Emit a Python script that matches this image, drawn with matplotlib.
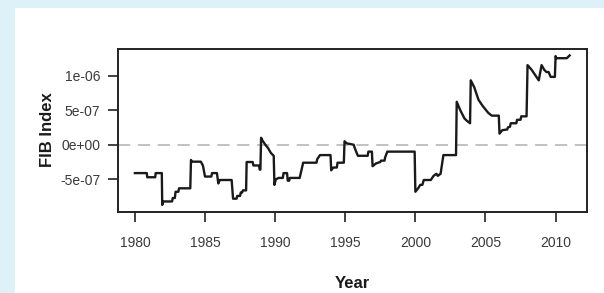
import matplotlib
matplotlib.use("Agg")
import matplotlib.pyplot as plt
from matplotlib.patches import Rectangle

plt.rcParams['font.family'] = ['Liberation Sans', 'DejaVu Sans']

# FIB index path (year, value in units of 1e-7)
years = [1980.00, 1980.85, 1980.88, 1981.45, 1981.48, 1981.92, 1981.95, 1982.02, 1982.65, 1982.70,
         1982.85, 1982.90, 1983.10, 1983.15, 1983.95, 1984.00, 1984.05, 1984.70, 1984.85, 1984.95,
         1985.00, 1985.45, 1985.50, 1985.85, 1985.95, 1986.05, 1986.90, 1987.00, 1987.25, 1987.30,
         1987.50, 1987.55, 1987.65, 1987.70, 1987.93, 1987.97, 1988.40, 1988.45, 1988.85, 1988.90,
         1988.95, 1989.00, 1989.10, 1989.30, 1989.50, 1989.70, 1989.90, 1989.95, 1990.05, 1990.25,
         1990.55, 1990.60, 1990.85, 1990.90, 1991.00, 1991.05, 1991.75, 1992.00, 1992.95, 1993.00,
         1993.20, 1993.95, 1994.00, 1994.15, 1994.40, 1994.45, 1994.90, 1994.95, 1995.10, 1995.60,
         1995.70, 1995.90, 1996.60, 1996.65, 1996.90, 1996.95, 1997.20, 1997.50, 1997.55, 1997.80,
         1997.85, 1998.00, 1999.95, 2000.00, 2000.20, 2000.35, 2000.50, 2000.60, 2001.10, 2001.30,
         2001.50, 2001.60, 2001.80, 2002.00, 2002.90, 2002.95, 2003.20, 2003.50, 2003.65, 2003.90,
         2003.95, 2004.20, 2004.50, 2004.80, 2005.00, 2005.20, 2005.45, 2005.95, 2006.00, 2006.20,
         2006.55, 2006.60, 2006.75, 2006.80, 2007.20, 2007.25, 2007.50, 2007.55, 2007.93, 2008.00,
         2008.30, 2008.50, 2008.80, 2009.00, 2009.20, 2009.35, 2009.50, 2009.65, 2009.95, 2010.00,
         2010.05, 2010.80, 2011.00]
values = [-4.1, -4.1, -4.7, -4.7, -4.1, -4.1, -8.7, -8.2, -8.2, -7.7,
          -7.7, -6.8, -6.8, -6.3, -6.3, -2.2, -2.45, -2.45, -3.0, -4.1,
          -4.6, -4.6, -4.1, -4.1, -5.6, -5.1, -5.1, -7.8, -7.8, -7.4,
          -7.4, -6.9, -6.9, -6.6, -6.6, -2.5, -2.5, -3.0, -3.0, -3.6,
          -3.6, 1.0, 0.6, 0.0, -0.5, -1.2, -1.6, -5.8, -5.0, -4.8,
          -4.8, -4.1, -4.1, -5.2, -5.2, -4.8, -4.8, -2.6, -2.6, -2.1,
          -1.5, -1.5, -3.7, -3.3, -3.3, -2.6, -2.6, 0.5, 0.2, 0.0,
          -0.6, -1.6, -1.6, -1.0, -1.0, -3.1, -2.7, -2.5, -2.3, -2.3,
          -1.8, -1.0, -1.0, -6.8, -6.3, -5.8, -5.8, -5.1, -5.1, -4.5,
          -4.2, -4.5, -4.2, -1.5, -1.5, 6.2, 5.0, 3.8, 3.5, 3.1,
          9.3, 8.3, 6.5, 5.6, 5.1, 4.6, 4.2, 4.2, 1.6, 2.1,
          2.2, 2.5, 2.6, 3.1, 3.1, 3.6, 3.6, 4.1, 4.1, 11.5,
          10.8, 10.2, 9.3, 11.5, 10.8, 10.5, 10.5, 9.8, 9.8, 12.8,
          12.5, 12.5, 12.9]
scale = 1e-7

xticks = [1980, 1985, 1990, 1995, 2000, 2005, 2010]
yticks = [-5e-7, 0, 5e-7, 1e-6]
ytick_labels = ["-5e-07", "0e+00", "5e-07", "1e-06"]

W, H = 604, 293
fig = plt.figure(figsize=(W / 100, H / 100), dpi=100)
fig.patch.set_facecolor('white')
band = '#dff1f8'
fig.patches.append(Rectangle((0, 1 - 8 / H), 1, 8 / H, transform=fig.transFigure,
                             facecolor=band, edgecolor='none', zorder=0))
fig.patches.append(Rectangle((0, 0), 14.7 / W, 1, transform=fig.transFigure,
                             facecolor=band, edgecolor='none', zorder=0))

l, r, t, b = 117.5, 587, 49, 211.7
ax = fig.add_axes([l / W, 1 - b / H, (r - l) / W, (b - t) / H])
ax.set_facecolor('white')

ax.axhline(0, color='#b0b0b0', lw=1.1, dashes=(8, 5), zorder=1)
ax.plot(years, [v * scale for v in values], color='#1a1a1a', lw=1.7, zorder=2)

ax.set_xlim(1978.76, 2012.24)
ax.set_ylim(-0.968e-6, 1.383e-6)
ax.set_xticks(xticks)
ax.set_xticklabels([str(x) for x in xticks])
ax.set_yticks(yticks)
ax.set_yticklabels(ytick_labels)

for s in ax.spines.values():
    s.set_color('#222222')
    s.set_linewidth(1.4)
ax.tick_params(axis='x', length=7.5, width=1.2, color='#222222', pad=10,
               labelsize=10, labelcolor='#3a3a3a')
ax.tick_params(axis='y', length=7.5, width=1.2, color='#222222', pad=5,
               labelsize=10, labelcolor='#3a3a3a')

fig.text(352.5 / W, 1 - 284 / H, 'Year', ha='center', va='center',
         fontsize=12, fontweight='bold', color='#1a1a1a')
fig.text(47 / W, 1 - 130 / H, 'FIB Index', ha='center', va='center', rotation=90,
         fontsize=12, fontweight='bold', color='#1a1a1a')

fig.savefig('out.png', dpi=100, facecolor=fig.get_facecolor())
